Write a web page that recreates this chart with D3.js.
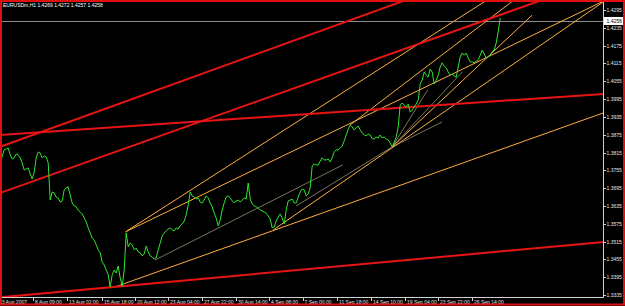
<!DOCTYPE html>
<html>
<head>
<meta charset="utf-8">
<script src="https://cdn.jsdelivr.net/npm/d3@7"></script>
<style>
html, body { margin: 0; padding: 0; background: #000; }
svg { display: block; }
.lbl { font-family: "Liberation Sans", Arial, sans-serif; font-size: 5px; fill: #e6e6e6; }
</style>
</head>
<body>
<svg id="chart" width="625" height="306"></svg>
<script>
var symbol = 'EURUSDm,H1';
var ohlc = [1.4269, 1.4272, 1.4257, 1.4258];

// H1 closes, one every 4 bars starting at bar 2
var firstBar = 2, barStep = 4;
var closes = [
  1.3773, 1.3803, 1.3824, 1.3827, 1.3830, 1.3807, 1.3793, 1.3797, 1.3810, 1.3807,
  1.3797, 1.3780, 1.3756, 1.3760, 1.3763, 1.3743, 1.3726, 1.3749, 1.3797, 1.3817,
  1.3813, 1.3797, 1.3803, 1.3800, 1.3780, 1.3655, 1.3682, 1.3679, 1.3665, 1.3662,
  1.3648, 1.3652, 1.3689, 1.3696, 1.3699, 1.3672, 1.3645, 1.3635, 1.3632, 1.3621,
  1.3615, 1.3608, 1.3594, 1.3581, 1.3561, 1.3544, 1.3527, 1.3520, 1.3504, 1.3487,
  1.3477, 1.3446, 1.3436, 1.3419, 1.3403, 1.3362, 1.3403, 1.3419, 1.3409, 1.3433,
  1.3392, 1.3365, 1.3419, 1.3544, 1.3497, 1.3510, 1.3504, 1.3487, 1.3493, 1.3480,
  1.3477, 1.3467, 1.3473, 1.3500, 1.3480, 1.3467, 1.3463, 1.3456, 1.3460, 1.3487,
  1.3510, 1.3534, 1.3544, 1.3551, 1.3557, 1.3561, 1.3554, 1.3551, 1.3561, 1.3557,
  1.3568, 1.3574, 1.3584, 1.3605, 1.3638, 1.3682, 1.3669, 1.3665, 1.3658, 1.3662,
  1.3648, 1.3645, 1.3655, 1.3669, 1.3662, 1.3645, 1.3632, 1.3611, 1.3594, 1.3568,
  1.3588, 1.3621, 1.3645, 1.3665, 1.3669, 1.3662, 1.3652, 1.3645, 1.3652, 1.3655,
  1.3648, 1.3655, 1.3662, 1.3658, 1.3712, 1.3658, 1.3642, 1.3635, 1.3632, 1.3628,
  1.3621, 1.3618, 1.3615, 1.3611, 1.3601, 1.3591, 1.3561, 1.3564, 1.3584, 1.3598,
  1.3608, 1.3594, 1.3574, 1.3621, 1.3652, 1.3655, 1.3658, 1.3645, 1.3645, 1.3665,
  1.3682, 1.3692, 1.3689, 1.3669, 1.3675, 1.3696, 1.3770, 1.3776, 1.3773, 1.3773,
  1.3786, 1.3797, 1.3790, 1.3790, 1.3793, 1.3783, 1.3797, 1.3817, 1.3824, 1.3824,
  1.3830, 1.3837, 1.3854, 1.3874, 1.3894, 1.3908, 1.3901, 1.3891, 1.3898, 1.3904,
  1.3891, 1.3881, 1.3874, 1.3871, 1.3877, 1.3874, 1.3861, 1.3861, 1.3867, 1.3864,
  1.3874, 1.3864, 1.3867, 1.3861, 1.3857, 1.3847, 1.3834, 1.3850, 1.3867, 1.3901,
  1.3975, 1.3982, 1.3975, 1.3968, 1.3978, 1.3951, 1.3958, 1.3968, 1.3978, 1.3992,
  1.4046, 1.4059, 1.4086, 1.4076, 1.4069, 1.4096, 1.4086, 1.4046, 1.4059, 1.4076,
  1.4103, 1.4117, 1.4106, 1.4100, 1.4086, 1.4076, 1.4079, 1.4073, 1.4069, 1.4103,
  1.4137, 1.4150, 1.4143, 1.4150, 1.4133, 1.4120, 1.4120, 1.4117, 1.4123, 1.4127,
  1.4143, 1.4160, 1.4147, 1.4133, 1.4137, 1.4143, 1.4154, 1.4160, 1.4184, 1.4221,
  1.4268
];

var dateBars = [0, 68, 136, 206, 272, 338, 406, 474, 540, 607, 676, 744, 812, 878, 946];
var dateLabels = ['3 Aug 2007', '8 Aug 09:00', '13 Aug 02:00', '15 Aug 18:00', '20 Aug 12:00',
  '23 Aug 04:00', '27 Aug 22:00', '30 Aug 14:00', '4 Sep 08:00', '7 Sep 00:00',
  '11 Sep 18:00', '14 Sep 10:00', '19 Sep 04:00', '23 Sep 22:00', '26 Sep 14:00'];

var priceTicks = [1.4295, 1.4235, 1.4175, 1.4115, 1.4055, 1.3995, 1.3935, 1.3875, 1.3815,
  1.3755, 1.3695, 1.3635, 1.3575, 1.3515, 1.3455, 1.3395, 1.3335];

// trendlines: [bar1, price1, bar2, price2]
var redLines = [
  [2, 1.3834, 814, 1.4329],
  [2, 1.3679, 1086, 1.4329],
  [2, 1.3874, 1208, 1.4012],
  [34, 1.3332, 1206, 1.3513]
];
var orangeRays = [
  [253, 1.3548, 976, 1.4329],
  [253, 1.3548, 1206, 1.4323],
  [548, 1.3554, 1208, 1.4322],
  [233, 1.3363, 1206, 1.3947],
  [702, 1.3908, 1030, 1.4329]
];
var orangeSegs = [
  [786, 1.3834, 1066, 1.4278]
];
var greySegs = [
  [312, 1.3453, 687, 1.3773],
  [594, 1.3635, 786, 1.3834],
  [786, 1.3834, 857, 1.4026],
  [786, 1.3834, 926, 1.4086],
  [786, 1.3834, 886, 1.3918]
];

var W = 625, H = 306, plotR = 603.5, plotB = 297.5;
var svg = d3.select('#chart');

var x = d3.scaleLinear().domain([0, 1208]).range([-0.8, 603.2]);
var y = d3.scaleLinear().domain([1.3335, 1.4295]).range([295, 10]);

svg.append('rect').attr('width', W).attr('height', H).attr('fill', '#000');

var defs = svg.append('defs');
defs.append('clipPath').attr('id', 'plot')
  .append('rect').attr('x', 0).attr('y', 0).attr('width', plotR).attr('height', plotB);

var g = svg.append('g').attr('clip-path', 'url(#plot)');

// current price line
g.append('line')
  .attr('x1', 0).attr('x2', plotR)
  .attr('y1', Math.round(y(ohlc[3])) + 0.5).attr('y2', Math.round(y(ohlc[3])) + 0.5)
  .attr('stroke', '#8a8a8a').attr('stroke-width', 1);

function lineAt(d, b) {
  return d[1] + (d[3] - d[1]) * (b - d[0]) / (d[2] - d[0]);
}

function drawLines(data, mode, color, width) {
  g.selectAll(null)
    .data(data)
    .enter().append('line')
    .attr('x1', function(d) { return x(mode == 'both' ? -20 : d[0]); })
    .attr('y1', function(d) { return y(mode == 'both' ? lineAt(d, -20) : d[1]); })
    .attr('x2', function(d) { return x(mode == 'seg' ? d[2] : 1300); })
    .attr('y2', function(d) { return y(mode == 'seg' ? d[3] : lineAt(d, 1300)); })
    .attr('stroke', color)
    .attr('stroke-width', width);
}

drawLines(greySegs, 'seg', '#a9a98c', 0.7);
drawLines(orangeRays, 'ray', '#ffad42', 1);
drawLines(orangeSegs, 'seg', '#ffad42', 1);
drawLines(redLines, 'both', '#e81414', 2);

// price line
var line = d3.line()
  .x(function(d, i) { return x(firstBar + i * barStep); })
  .y(function(d) { return y(d); });

g.append('path')
  .datum(closes)
  .attr('d', line)
  .attr('fill', 'none')
  .attr('stroke', '#2ee62e')
  .attr('stroke-width', 1);

// axes
svg.append('line')
  .attr('x1', plotR).attr('x2', plotR).attr('y1', 0).attr('y2', plotB)
  .attr('stroke', '#d0d0d0').attr('stroke-width', 1);
svg.append('line')
  .attr('x1', 0).attr('x2', plotR).attr('y1', plotB).attr('y2', plotB)
  .attr('stroke', '#d0d0d0').attr('stroke-width', 1);

var yt = svg.append('g');
yt.selectAll('line')
  .data(priceTicks)
  .enter().append('line')
  .attr('x1', plotR).attr('x2', plotR + 2.5)
  .attr('y1', function(d) { return Math.round(y(d)) + 0.5; })
  .attr('y2', function(d) { return Math.round(y(d)) + 0.5; })
  .attr('stroke', '#d0d0d0');
yt.selectAll('text')
  .data(priceTicks)
  .enter().append('text')
  .attr('class', 'lbl')
  .attr('x', 606.5)
  .attr('y', function(d) { return y(d) + 2; })
  .text(function(d) { return d.toFixed(4); });

var xt = svg.append('g');
xt.selectAll('line')
  .data(dateBars)
  .enter().append('line')
  .attr('x1', function(d) { return Math.round(x(d)) + 0.5; })
  .attr('x2', function(d) { return Math.round(x(d)) + 0.5; })
  .attr('y1', plotB).attr('y2', plotB + 3.5)
  .attr('stroke', '#d0d0d0');
xt.selectAll('text')
  .data(dateLabels)
  .enter().append('text')
  .attr('class', 'lbl')
  .attr('x', function(d, i) { return x(dateBars[i]) + (i == 0 ? 2.5 : 1.8); })
  .attr('y', 303.8)
  .text(function(d) { return d; });

// current price tag
var tagY = y(ohlc[3]);
svg.append('rect')
  .attr('x', 604).attr('y', tagY - 4).attr('width', 19).attr('height', 8)
  .attr('fill', '#fff');
svg.append('text')
  .attr('class', 'lbl')
  .attr('x', 606.5).attr('y', tagY + 2)
  .style('fill', '#000')
  .text(ohlc[3].toFixed(4));

// header
svg.append('text')
  .attr('class', 'lbl')
  .attr('x', 3).attr('y', 7)
  .style('fill', '#fff')
  .text(symbol + '  ' + ohlc.map(function(d) { return d.toFixed(4); }).join(' '));

// frame
svg.append('rect')
  .attr('x', 1).attr('y', 1).attr('width', W - 2).attr('height', H - 2.5)
  .attr('fill', 'none').attr('stroke', '#e01010').attr('stroke-width', 2);
</script>
</body>
</html>
